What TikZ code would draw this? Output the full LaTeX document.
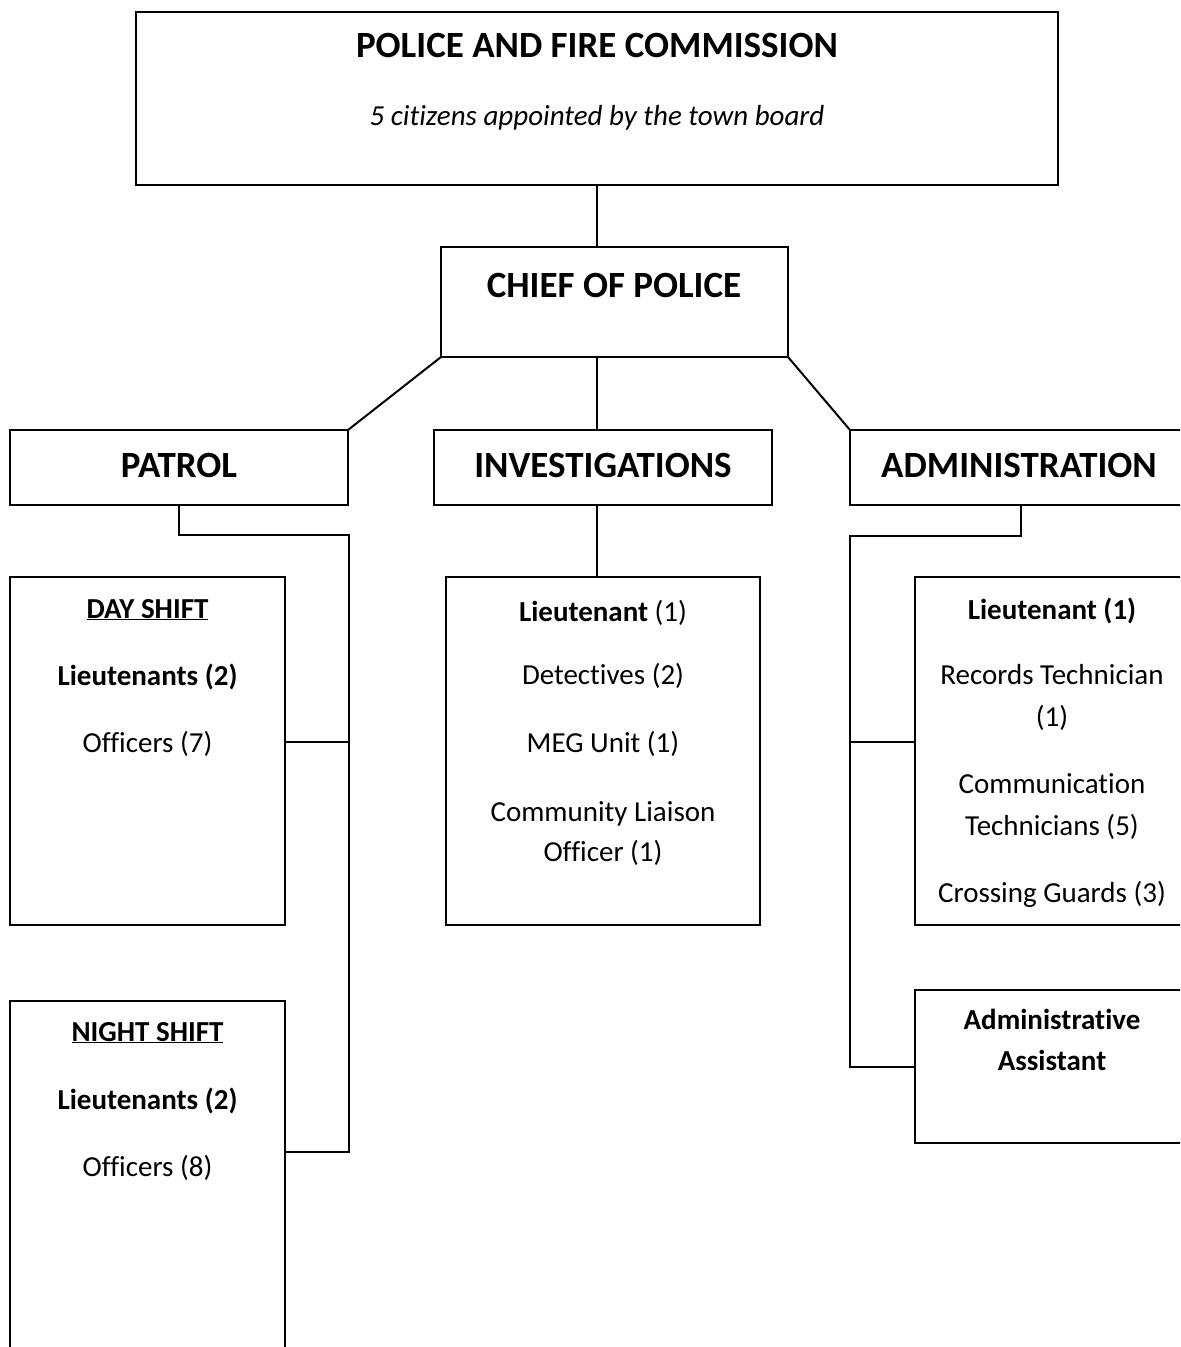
\documentclass[tikz,border=0pt]{standalone}
\usepackage{fontspec}
\setmainfont{Carlito}[Ligatures={NoCommon}]
\newcommand\bodyfs{\fontsize{29bp}{35bp}\selectfont}
\newcommand\headfs{\fontsize{37bp}{44bp}\selectfont\bfseries}
\begin{document}
\begin{tikzpicture}[x=1bp,y=-1bp,
  box/.style={draw, line width=2bp, inner sep=0pt, outer sep=0pt},
  conn/.style={line width=2bp},
  body/.style={inner sep=0pt, anchor=base, font=\bodyfs},
  head/.style={inner sep=0pt, anchor=base, font=\headfs}]
\useasboundingbox (0,0) rectangle (1180,1347);
\clip (0,0) rectangle (1180,1347);
% boxes
\node[box, minimum width=922bp, minimum height=173bp] (pfc) at (597,98.5) {};
\node[box, minimum width=347bp, minimum height=110bp] (chief) at (614.5,302) {};
\node[box, minimum width=338bp, minimum height=75bp] (patrol) at (179,467.5) {};
\node[box, minimum width=338bp, minimum height=75bp] (inv) at (603,467.5) {};
\node[box, minimum width=338bp, minimum height=75bp] (admin) at (1019,467.5) {};
\node[box, minimum width=275bp, minimum height=348bp] (day) at (147.5,751) {};
\node[box, minimum width=275bp, minimum height=379bp] (night) at (147.5,1190.5) {};
\node[box, minimum width=314bp, minimum height=348bp] (invb) at (603,751) {};
\node[box, minimum width=275bp, minimum height=348bp] (adminlt) at (1052.5,751) {};
\node[box, minimum width=275bp, minimum height=153bp] (assist) at (1052.5,1066.5) {};
% texts
\node[head] (pfct) at (597,58) {POLICE AND FIRE COMMISSION};
\node[body] (pfcs) at (597,126) {\itshape 5 citizens appointed by the town board};
\node[head] (chieft) at (614,297) {CHIEF OF POLICE};
\node[head] (patrolt) at (179,477) {PATROL};
\node[head] (invt) at (603,477) {INVESTIGATIONS};
\node[head] (admint) at (1019,477) {ADMINISTRATION};
\node[body] (d1) at (147.5,618) {\bfseries\underline{DAY SHIFT}};
\node[body] (d2) at (147.5,685) {\bfseries Lieutenants (2)};
\node[body] (d3) at (147.5,752) {Officers (7)};
\node[body] (n1) at (147.5,1041) {\bfseries\underline{NIGHT SHIFT}};
\node[body] (n2) at (147.5,1109) {\bfseries Lieutenants (2)};
\node[body] (n3) at (147.5,1176) {Officers (8)};
\node[body] (i1) at (603,621) {\textbf{Lieutenant} (1)};
\node[body] (i2) at (603,684) {Detectives (2)};
\node[body] (i3) at (603,752) {MEG Unit (1)};
\node[body] (i4) at (603,821) {Community Liaison};
\node[body] (i5) at (603,861) {Officer (1)};
\node[body] (a1) at (1052,619) {\bfseries Lieutenant (1)};
\node[body] (a2) at (1052,684) {Records Technician};
\node[body] (a3) at (1052,726) {(1)};
\node[body] (a4) at (1052,793) {Communication};
\node[body] (a5) at (1052,835) {Technicians (5)};
\node[body] (a6) at (1052,902) {Crossing Guards (3)};
\node[body] (s1) at (1052,1029) {\bfseries Administrative};
\node[body] (s2) at (1052,1070) {\bfseries Assistant};
% connector points
\coordinate (pj) at (349,535);
\coordinate (aj) at (850,536);
% connectors
\draw[conn] (pfc.south) -- (pfc.south |- chief.north);
\draw[conn] (pfc.south |- chief.south) -- (pfc.south |- inv.north);
\draw[conn] (chief.south west) -- (patrol.north east);
\draw[conn] (chief.south east) -- (admin.north west);
\draw[conn] (patrol.south) |- (pj) -- (pj |- 0,1152) -- (night.east |- 0,1152);
\draw[conn] (day.east |- 0,742) -- (pj |- 0,742);
\draw[conn] (pfc.south |- invb.north) -- (pfc.south |- inv.south);
\draw[conn] (1021,505) |- (aj) -- (aj |- assist.west) -- (assist.west);
\draw[conn] (aj |- 0,742) -- (adminlt.west |- 0,742);
\end{tikzpicture}
\end{document}
